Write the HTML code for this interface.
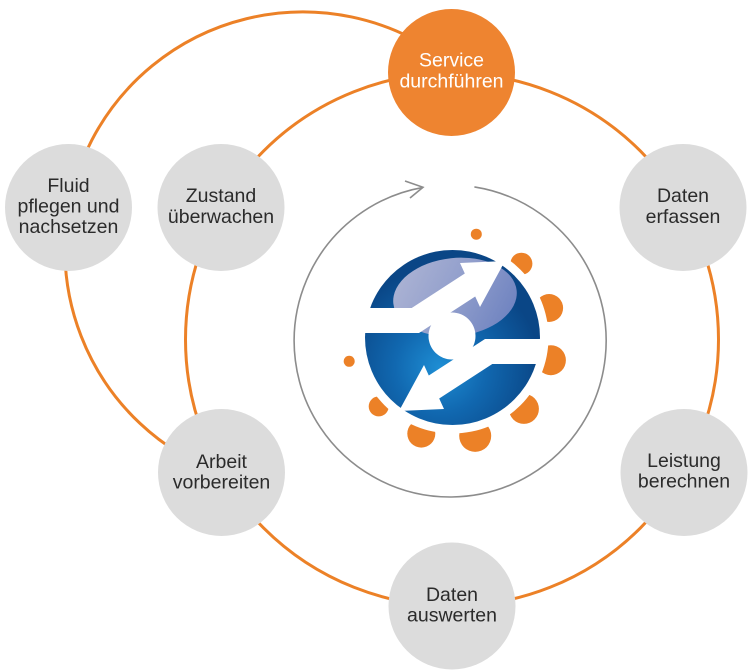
<!DOCTYPE html>
<html>
<head>
<meta charset="utf-8">
<style>
  html,body{margin:0;padding:0;background:#fff;}
  svg{display:block;}
  text{font-family:"Liberation Sans",Arial,sans-serif;font-size:19.5px;text-anchor:middle;}
</style>
</head>
<body>
<svg width="752" height="672" viewBox="0 0 752 672" xmlns="http://www.w3.org/2000/svg">
  <defs>
    <radialGradient id="blue" cx="440" cy="368" r="100" gradientUnits="userSpaceOnUse">
      <stop offset="0" stop-color="#1e8ed4"/>
      <stop offset="0.45" stop-color="#1168b0"/>
      <stop offset="1" stop-color="#0a4686"/>
    </radialGradient>
    <linearGradient id="lav" x1="400" y1="262" x2="505" y2="330" gradientUnits="userSpaceOnUse">
      <stop offset="0" stop-color="#adb4d4"/>
      <stop offset="0.5" stop-color="#929fcc"/>
      <stop offset="1" stop-color="#6f83c0"/>
    </linearGradient>
    <clipPath id="logoclip">
      <circle cx="452.5" cy="337.5" r="94"/>
    </clipPath>
  </defs>

  <!-- orange rings -->
  <circle cx="452" cy="339.5" r="266.5" fill="none" stroke="#ec8127" stroke-width="3"/>
  <path d="M 221.6 473.6 A 238 238 0 1 1 439.5 55.0" fill="none" stroke="#ec8127" stroke-width="3"/>

  <!-- gray cycle arrow -->
  <path d="M 474.4 186.9 A 156 156 0 1 1 422.9 187.4" fill="none" stroke="#8c8c8c" stroke-width="1.6"/>
  <path d="M 405 181 L 423 187.3 L 410 198" fill="none" stroke="#8c8c8c" stroke-width="1.6"/>

  <!-- orange teeth -->
  <g fill="#ec8127">
    <circle cx="521.4" cy="263.7" r="11"/>
    <circle cx="549.1" cy="308.0" r="14"/>
    <circle cx="550.9" cy="360.2" r="15"/>
    <circle cx="523.9" cy="408.9" r="15"/>
    <circle cx="475.2" cy="435.9" r="16"/>
    <circle cx="421.3" cy="433.6" r="14"/>
    <circle cx="378.7" cy="406.4" r="10"/>
    <circle cx="476.3" cy="234.2" r="5.5"/>
    <circle cx="349.2" cy="361.3" r="5.5"/>
  </g>
  <circle cx="452.5" cy="337.5" r="96" fill="#fff"/>

  <!-- blue logo -->
  <circle cx="452.5" cy="337.5" r="87.5" fill="url(#blue)"/>
  <ellipse cx="455" cy="297" rx="62" ry="39" fill="url(#lav)" transform="rotate(-6 455 297)"/>
  <g fill="#fff" clip-path="url(#logoclip)">
    <polygon points="358,308 411.7,308 464.8,273.5 460,263 505,261 480,307 475.2,296.5 419,333 358,333"/>
    <polygon points="546,364 492.3,364 439.2,398.5 444,409 399,411 424,365 428.8,375.5 485,339 546,339"/>
    <circle cx="452" cy="336" r="23.5"/>
  </g>

  <!-- nodes -->
  <circle cx="451.5" cy="72.5" r="63.5" fill="#ee8430"/>
  <text fill="#ffffff" x="451.5" y="66.5">Service</text>
  <text fill="#ffffff" x="451.5" y="87.5">durchführen</text>

  <g fill="#dcdcdc">
    <circle cx="68.5" cy="207.5" r="63.5"/>
    <circle cx="221" cy="207.5" r="63.5"/>
    <circle cx="683" cy="207.5" r="63.5"/>
    <circle cx="221.5" cy="472.5" r="63.5"/>
    <circle cx="684" cy="472.5" r="63.5"/>
    <circle cx="452" cy="606" r="63.5"/>
  </g>

  <g fill="#2b2b2b">
    <text x="68.5" y="192">Fluid</text>
    <text x="68.5" y="212.5">pflegen und</text>
    <text x="68.5" y="233">nachsetzen</text>

    <text x="221" y="202">Zustand</text>
    <text x="221" y="223">überwachen</text>

    <text x="683" y="202">Daten</text>
    <text x="683" y="223">erfassen</text>

    <text x="221.5" y="468">Arbeit</text>
    <text x="221.5" y="488.5">vorbereiten</text>

    <text x="684" y="467">Leistung</text>
    <text x="684" y="487.5">berechnen</text>

    <text x="452" y="601">Daten</text>
    <text x="452" y="621.5">auswerten</text>
  </g>
</svg>
</body>
</html>
